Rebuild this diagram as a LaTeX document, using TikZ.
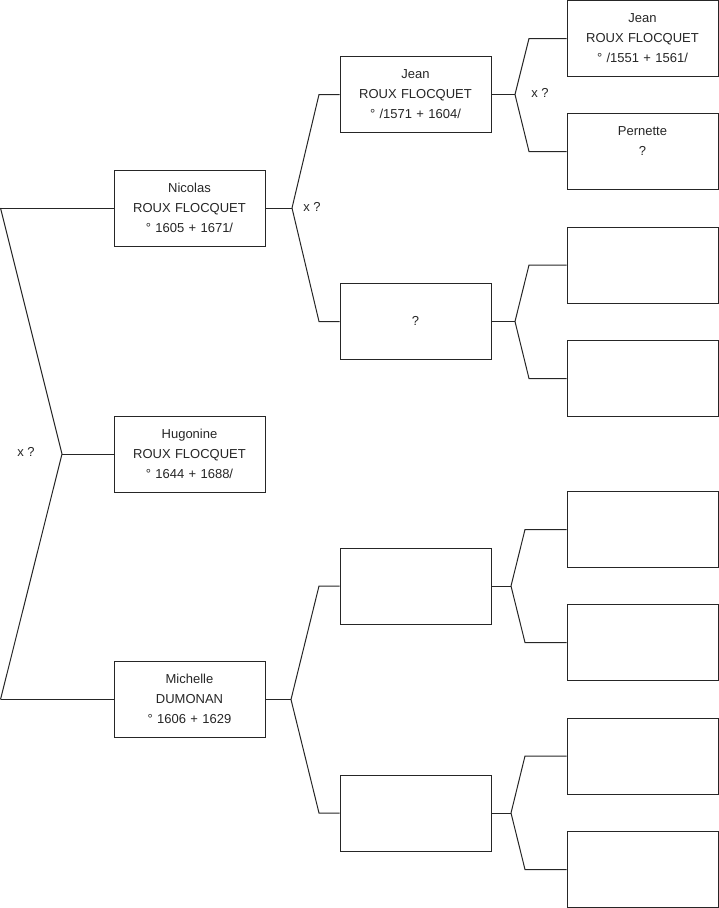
\documentclass[tikz,border=0pt]{standalone}
\usepackage{fontspec}
\setmainfont{Liberation Sans}
\begin{document}
\begin{tikzpicture}[x=1pt,y=-1pt,
  person/.style={draw=black!85,line width=1pt,fill=white,minimum width=151pt,minimum height=76pt,
    inner sep=0pt,align=center,text width=151pt,
    font=\fontsize{13}{20}\selectfont,text=black!85},
  link/.style={draw=black!85,line width=1pt},
  lbl/.style={font=\fontsize{13}{20}\selectfont,text=black!85,inner sep=0pt}]
\useasboundingbox (0,0) rectangle (719,908);
% generation 1
\node[person] (nicolas) at (189.5,208) {\strut Nicolas\\\strut ROUX FLOCQUET\\\strut ° 1605 + 1671/};
\node[person] (hugonine) at (189.5,454) {\strut Hugonine\\\strut ROUX FLOCQUET\\\strut ° 1644 + 1688/};
\node[person] (michelle) at (189.5,699.5) {\strut Michelle\\\strut DUMONAN\\\strut ° 1606 + 1629};
% generation 2
\node[person] (jean2) at (415.5,94.5) {\strut Jean\\\strut ROUX FLOCQUET\\\strut ° /1571 + 1604/};
\node[person] (unk2) at (415.5,321.5) {\strut\\\strut ?\\\strut};
\node[person] (g2c) at (415.5,586) {};
\node[person] (g2d) at (415.5,813) {};
% generation 3
\node[person] (jean3) at (642.5,38.5) {\strut Jean\\\strut ROUX FLOCQUET\\\strut ° /1551 + 1561/};
\node[person] (pernette) at (642.5,151.5) {\strut Pernette\\\strut ?\\\strut};
\node[person] (g3c) at (642.5,265) {};
\node[person] (g3d) at (642.5,378.5) {};
\node[person] (g3e) at (642.5,529.5) {};
\node[person] (g3f) at (642.5,642.5) {};
\node[person] (g3g) at (642.5,756) {};
\node[person] (g3h) at (642.5,869.5) {};
% left fork
\coordinate (l0) at (0.5,208);
\coordinate (l1) at (0.5,699.5);
\coordinate (lf) at (62,454);
\draw[link] (l0) -- (nicolas.west);
\draw[link] (l1) -- (michelle.west);
\draw[link] (l0) -- (lf) -- (l1);
\draw[link] (lf) -- (hugonine.west);
\node[lbl] (x1) at (26,452) {x ?};
% Nicolas fork
\coordinate (nf) at (292,208);
\draw[link] (nicolas.east) -- (nf);
\draw[link] (nf) -- (319,94.5) -- (jean2.west);
\draw[link] (nf) -- (319,321.5) -- (unk2.west);
\node[lbl] (x2) at (312,207) {x ?};
% Michelle fork
\coordinate (mf) at (291,699.5);
\draw[link] (michelle.east) -- (mf);
\draw[link] (mf) -- (319,586) -- (g2c.west);
\draw[link] (mf) -- (319,813) -- (g2d.west);
% gen2 forks
\coordinate (jf) at (515,94.5);
\draw[link] (jean2.east) -- (jf);
\draw[link] (jf) -- (529,38.5) -- (jean3.west);
\draw[link] (jf) -- (529,151.5) -- (pernette.west);
\node[lbl] (x3) at (540,93) {x ?};
\coordinate (uf) at (515,321.5);
\draw[link] (unk2.east) -- (uf);
\draw[link] (uf) -- (529,265) -- (g3c.west);
\draw[link] (uf) -- (529,378.5) -- (g3d.west);
\coordinate (cf) at (511,586);
\draw[link] (g2c.east) -- (cf);
\draw[link] (cf) -- (525,529.5) -- (g3e.west);
\draw[link] (cf) -- (525,642.5) -- (g3f.west);
\coordinate (df) at (511,813);
\draw[link] (g2d.east) -- (df);
\draw[link] (df) -- (525,756) -- (g3g.west);
\draw[link] (df) -- (525,869.5) -- (g3h.west);
\end{tikzpicture}
\end{document}
